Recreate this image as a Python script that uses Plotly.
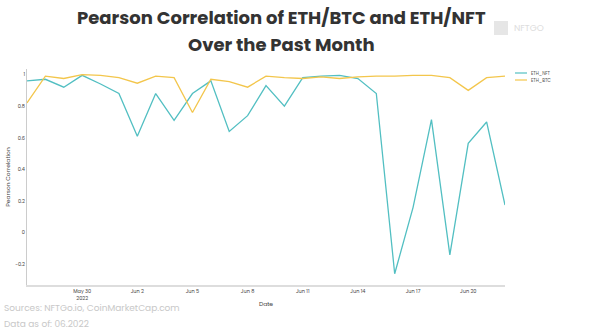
import plotly.graph_objects as go
import pandas as pd

dates = pd.date_range("2022-05-27", "2022-06-22", freq="D").strftime("%Y-%m-%d").tolist()
eth_nft = [0.96, 0.97, 0.92, 0.995, 0.94, 0.88, 0.61, 0.88, 0.71, 0.88, 0.96, 0.64, 0.74,
           0.93, 0.80, 0.98, 0.99, 0.995, 0.975, 0.88, -0.26, 0.16, 0.715, -0.14, 0.565, 0.70, 0.175]
eth_btc = [0.82, 0.99, 0.975, 1.0, 0.995, 0.98, 0.945, 0.99, 0.98, 0.76, 0.97, 0.955, 0.92,
           0.99, 0.98, 0.975, 0.985, 0.975, 0.985, 0.99, 0.99, 0.995, 0.995, 0.98, 0.90, 0.98, 0.99]
tick_dates = ["2022-05-30", "2022-06-02", "2022-06-05", "2022-06-08", "2022-06-11",
              "2022-06-14", "2022-06-17", "2022-06-20"]
tick_labels = ["May 30<br>2022", "Jun 2", "Jun 5", "Jun 8", "Jun 11", "Jun 14", "Jun 17", "Jun 20"]
y_ticks = [-0.2, 0, 0.2, 0.4, 0.6, 0.8, 1]
y_labels = ["-0.2", "0", "0.2", "0.4", "0.6", "0.8", "1"]
series_names = ["ETH_NFT", "ETH_BTC"]
series_colors = ["#52bfc2", "#f3c64c"]

FONT = "Poppins, Lato, Open Sans, sans-serif"
L, R, T, B = 27, 95, 69, 48
PW, PH = 600 - L - R, 333 - T - B


def px_x(p):
    return (p - L) / PW


def px_y(p):
    return (333 - B - p) / PH


fig = go.Figure()
for name, vals, col in zip(series_names, [eth_nft, eth_btc], series_colors):
    fig.add_trace(go.Scatter(x=dates, y=vals, mode="lines", name=name,
                             line=dict(color=col, width=1.3), showlegend=False))

fig.update_layout(
    width=600, height=333,
    margin=dict(l=L, r=R, t=T, b=B, autoexpand=False),
    paper_bgcolor="white", plot_bgcolor="white",
    font=dict(family=FONT, color="#444", size=5),
    showlegend=False,
    xaxis=dict(range=["2022-05-27", "2022-06-22"], tickvals=tick_dates, ticktext=tick_labels,
               showgrid=False, zeroline=False, showline=True, linecolor="#dddddd", linewidth=2,
               ticks="", tickfont=dict(size=5, color="#444"), automargin=False,
               title=dict(text="Date", font=dict(size=6, color="#444"), standoff=1)),
    yaxis=dict(range=[-0.331, 1.035], tickvals=y_ticks, ticktext=y_labels,
               showgrid=False, zeroline=False, showline=True, linecolor="#cccccc", linewidth=1,
               ticks="", tickfont=dict(size=5, color="#444"), automargin=False,
               title=dict(text="Pearson Correlation", font=dict(size=6, color="#444"), standoff=4)),
)

# manual legend
for i, (name, col) in enumerate(zip(series_names, series_colors)):
    yy = px_y(73 + 7 * i)
    fig.add_shape(type="line", xref="paper", yref="paper", x0=px_x(515), x1=px_x(527),
                  y0=yy, y1=yy, line=dict(color=col, width=1.2))
    fig.add_annotation(text=name, xref="paper", yref="paper", x=px_x(529), y=yy,
                       showarrow=False, xanchor="left", yanchor="middle",
                       font=dict(family=FONT, size=4.5, color="#555"))

fig.add_annotation(text="<b>Pearson Correlation of ETH/BTC and ETH/NFT</b>", xref="paper", yref="paper",
                   x=px_x(281), y=px_y(17), showarrow=False,
                   font=dict(family=FONT, size=18, color="#333"), xanchor="center", yanchor="middle")
fig.add_annotation(text="<b>Over the Past Month</b>", xref="paper", yref="paper",
                   x=px_x(281), y=px_y(45), showarrow=False,
                   font=dict(family=FONT, size=18, color="#333"), xanchor="center", yanchor="middle")
fig.add_annotation(text="NFTGO", xref="paper", yref="paper", x=px_x(512),
                   y=px_y(28), showarrow=False, xanchor="left", yanchor="middle",
                   font=dict(family=FONT, size=9, color="#dddddd"))
fig.add_shape(type="rect", xref="paper", yref="paper", x0=px_x(494), x1=px_x(508),
              y0=px_y(35), y1=px_y(21), fillcolor="#e6e6e6", line=dict(width=0))
fig.add_annotation(text="Sources: NFTGo.io, CoinMarketCap.com",
                   xref="paper", yref="paper", x=px_x(2), y=px_y(308),
                   showarrow=False, xanchor="left", yanchor="middle", align="left",
                   font=dict(family=FONT, size=9, color="#c8c8c8"))
fig.add_annotation(text="Data as of: 06.2022",
                   xref="paper", yref="paper", x=px_x(2), y=px_y(324),
                   showarrow=False, xanchor="left", yanchor="middle", align="left",
                   font=dict(family=FONT, size=9, color="#c8c8c8"))

fig.write_html("out.html")
